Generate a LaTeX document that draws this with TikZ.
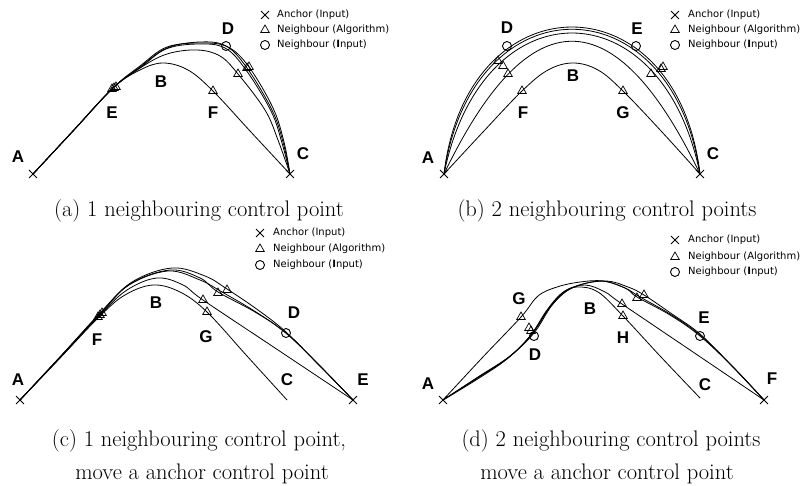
\documentclass[tikz,border=0pt]{standalone}
\usepackage{fontspec}
\usepackage{tikz}
\usetikzlibrary{shapes.geometric,shapes.misc}
\newfontfamily\lblfont{Liberation Sans}
\newfontfamily\keyfont{DejaVu Sans}

\begin{document}
\begin{tikzpicture}[
    x=1pt, y=-1pt,
    anchorpt/.style={cross out, draw=black, line width=0.9pt, minimum size=7pt, inner sep=0pt},
    algpt/.style={regular polygon, regular polygon sides=3, draw=black, line width=0.7pt, minimum size=10pt, inner sep=0pt},
    inpt/.style={circle, draw=black, line width=0.9pt, minimum size=9pt, inner sep=0pt},
    lbl/.style={font=\lblfont\bfseries\fontsize{17}{17}\selectfont, inner sep=0pt},
    key/.style={font=\keyfont\fontsize{10}{10}\selectfont, anchor=west, inner sep=0pt},
    captext/.style={font=\fontsize{22.5}{26}\selectfont, anchor=base, inner sep=0pt},
    curve/.style={line width=0.8pt, black}
]
\useasboundingbox (0,0) rectangle (801,485);

% (a) 1 neighbouring control point
\draw[curve] plot[smooth, tension=0.6] coordinates {(33,174) (73,131) (113,88) (140,70) (163,63) (188,70) (213,91) (250,131) (290,174)};
\draw[curve] plot[smooth, tension=0.6] coordinates {(33,174) (73,131) (113,88) (140,68) (167,54) (197,50) (220,56) (238,74) (265,110) (278,140) (290,174)};
\draw[curve] plot[smooth, tension=0.6] coordinates {(33,174) (73,131) (113,88) (140,67) (167,48) (200,42) (226,46) (247,68) (272,110) (283,142) (290,174)};
\draw[curve] plot[smooth, tension=0.6] coordinates {(33,174) (73,131) (113,88) (140,66) (167,47) (202,43) (228,47) (249,67) (273,108) (284,142) (290,174)};
\draw[curve] plot[smooth, tension=0.6] coordinates {(33,174) (73,131) (113,88) (140,68) (166,49) (198,44) (225,48) (246,70) (271,111) (282,143) (290,174)};

\node[anchorpt] (aA) at (33,174) {};
\node[anchorpt] (aC) at (290,174) {};
\node[inpt] (aD) at (226,46) {};
\node[algpt] (aE1) at (112,89) {};
\node[algpt] (aE2) at (114,88) {};
\node[algpt] (aE3) at (116,87) {};
\node[algpt] (aF) at (213,91) {};
\node[algpt] (aT1) at (238,74) {};
\node[algpt] (aT2) at (247,68) {};
\node[algpt] (aT3) at (249,67) {};

\node[lbl] (aLA) at (18,157) {A};
\node[lbl] (aLB) at (161,82) {B};
\node[lbl] (aLC) at (303,154) {C};
\node[lbl] (aLD) at (228,29) {D};
\node[lbl] (aLE) at (112,113) {E};
\node[lbl] (aLF) at (213,113) {F};

\node[anchorpt] (aKeyX) at (265,15) {};
\node[algpt] (aKeyT) at (265,30) {};
\node[inpt] (aKeyO) at (265,45) {};
\node[key] (aKeyXt) at (277,15) {Anchor (Input)};
\node[key] (aKeyTt) at (277,30) {Neighbour (Algorithm)};
\node[key] (aKeyOt) at (277,45) {Neighbour (\textbf{I}nput)};

% (b) 2 neighbouring control points
\draw[curve] plot[smooth, tension=0.6] coordinates {(444,174) (483,132) (522,91) (548,70) (573,63) (598,70) (623,91) (662,132) (700,174)};
\draw[curve] (444,174) .. controls (467,-22) and (677,-22) .. (700,174);
\draw[curve] (444,174) .. controls (472,-19) and (672,-19) .. (700,174);
\draw[curve] (444,174) .. controls (482,-14) and (662,-14) .. (700,174);
\draw[curve] (444,174) .. controls (529,-3) and (615,-3) .. (700,174);

\node[anchorpt] (bA) at (444,174) {};
\node[anchorpt] (bC) at (700,174) {};
\node[inpt] (bD) at (507,46) {};
\node[inpt] (bE) at (636,46) {};
\node[algpt] (bF) at (522,91) {};
\node[algpt] (bG) at (623,91) {};
\node[algpt] (bT1) at (498,61) {};
\node[algpt] (bT2) at (503,66) {};
\node[algpt] (bT3) at (508,74) {};
\node[algpt] (bT4) at (651,74) {};
\node[algpt] (bT5) at (661,69) {};
\node[algpt] (bT6) at (663,67) {};

\node[lbl] (bLA) at (428,158) {A};
\node[lbl] (bLB) at (573,76) {B};
\node[lbl] (bLC) at (713,154) {C};
\node[lbl] (bLD) at (507,28) {D};
\node[lbl] (bLE) at (637,29) {E};
\node[lbl] (bLF) at (523,113) {F};
\node[lbl] (bLG) at (623,113) {G};

\node[anchorpt] (bKeyX) at (675,15) {};
\node[algpt] (bKeyT) at (675,30) {};
\node[inpt] (bKeyO) at (675,45) {};
\node[key] (bKeyXt) at (688,15) {Anchor (Input)};
\node[key] (bKeyTt) at (688,30) {Neighbour (Algorithm)};
\node[key] (bKeyOt) at (688,45) {Neighbour (\textbf{I}nput)};

% (c) 1 neighbouring control point, anchor moved
\draw[curve] plot[smooth, tension=0.6] coordinates {(20,400) (60,358) (100,316) (125,295) (153,285) (180,292) (207,312) (247,356) (287,400)};
\draw[curve] plot[smooth, tension=0.6] coordinates {(20,400) (60,358) (100,315) (127,290) (157,278) (183,285) (203,300) (278,350) (353,400)};
\draw[curve] plot[smooth, tension=0.6] coordinates {(20,400) (60,357) (100,314) (130,284) (170,270) (200,278) (218,292) (255,312) (286,333) (320,366) (353,400)};
\draw[curve] plot[smooth, tension=0.6] coordinates {(20,400) (60,357) (100,313) (132,282) (172,268) (205,276) (227,289) (258,310) (286,332) (320,366) (353,400)};
\draw[curve] plot[smooth, tension=0.6] coordinates {(20,400) (61,356) (101,313) (129,285) (168,271) (200,280) (222,292) (256,312) (287,334) (320,366) (353,400)};

\node[anchorpt] (cA) at (20,400) {};
\node[anchorpt] (cE) at (353,400) {};
\node[inpt] (cD) at (286,333) {};
\node[algpt] (cF1) at (98,317) {};
\node[algpt] (cF2) at (100,315) {};
\node[algpt] (cF3) at (102,313) {};
\node[algpt] (cG) at (207,312) {};
\node[algpt] (cT1) at (203,300) {};
\node[algpt] (cT2) at (218,293) {};
\node[algpt] (cT3) at (227,290) {};

\node[lbl] (cLA) at (18,380) {A};
\node[lbl] (cLB) at (156,303) {B};
\node[lbl] (cLC) at (287,380) {C};
\node[lbl] (cLD) at (294,313) {D};
\node[lbl] (cLE) at (363,380) {E};
\node[lbl] (cLF) at (97,340) {F};
\node[lbl] (cLG) at (206,337) {G};

\node[anchorpt] (cKeyX) at (260,233) {};
\node[algpt] (cKeyT) at (260,249) {};
\node[inpt] (cKeyO) at (260,265) {};
\node[key] (cKeyXt) at (273,233) {Anchor (Input)};
\node[key] (cKeyTt) at (273,249) {Neighbour (Algorithm)};
\node[key] (cKeyOt) at (273,265) {Neighbour (\textbf{I}nput)};

% (d) 2 neighbouring control points, anchor moved
\draw[curve] plot[smooth, tension=0.6] coordinates {(443,400) (482,358) (521,317) (538,296) (557,287) (580,282) (603,281) (625,288) (640,297) (670,314) (700,335) (733,367) (764,400)};
\draw[curve] plot[smooth, tension=0.6] coordinates {(443,400) (476,380) (507,359) (530,336) (547,310) (562,293) (577,287) (598,292) (623,316) (661,357) (700,398)};
\draw[curve] plot[smooth, tension=0.6] coordinates {(443,400) (476,379) (508,358) (531,335) (549,308) (565,291) (585,285) (605,292) (622,304) (693,352) (764,400)};
\draw[curve] plot[smooth, tension=0.6] coordinates {(443,400) (477,378) (509,357) (532,334) (551,306) (570,289) (600,281) (625,288) (637,297) (670,315) (700,336) (733,367) (764,400)};
\draw[curve] plot[smooth, tension=0.6] coordinates {(443,400) (478,377) (510,356) (534,333) (553,304) (574,287) (605,281) (628,287) (644,295) (672,314) (700,334) (733,367) (764,400)};

\node[anchorpt] (dA) at (443,400) {};
\node[anchorpt] (dF) at (764,400) {};
\node[inpt] (dD) at (534,336) {};
\node[inpt] (dE) at (700,336) {};
\node[algpt] (dG) at (521,317) {};
\node[algpt] (dH) at (623,316) {};
\node[algpt] (dT1) at (529,328) {};
\node[algpt] (dT2) at (531,331) {};
\node[algpt] (dT3) at (622,304) {};
\node[algpt] (dT4) at (637,298) {};
\node[algpt] (dT5) at (644,295) {};

\node[lbl] (dLA) at (428,384) {A};
\node[lbl] (dLB) at (590,309) {B};
\node[lbl] (dLC) at (705,385) {C};
\node[lbl] (dLD) at (535,355) {D};
\node[lbl] (dLE) at (704,318) {E};
\node[lbl] (dLF) at (772,379) {F};
\node[lbl] (dLG) at (519,299) {G};
\node[lbl] (dLH) at (623,338) {H};

\node[anchorpt] (dKeyX) at (675,240) {};
\node[algpt] (dKeyT) at (675,257) {};
\node[inpt] (dKeyO) at (675,272) {};
\node[key] (dKeyXt) at (688,240) {Anchor (Input)};
\node[key] (dKeyTt) at (688,257) {Neighbour (Algorithm)};
\node[key] (dKeyOt) at (688,272) {Neighbour (\textbf{I}nput)};

% Captions
\node[captext] (capA) at (199,216) {(a) 1 neighbouring control point};
\node[captext] (capB) at (607,216) {(b) 2 neighbouring control points};
\node[captext] (capC1) at (199,446) {(c) 1 neighbouring control point,};
\node[captext] (capC2) at (202,479) {move a anchor control point};
\node[captext] (capD1) at (611,446) {(d) 2 neighbouring control points};
\node[captext] (capD2) at (607,479) {move a anchor control point};
\end{tikzpicture}
\end{document}
